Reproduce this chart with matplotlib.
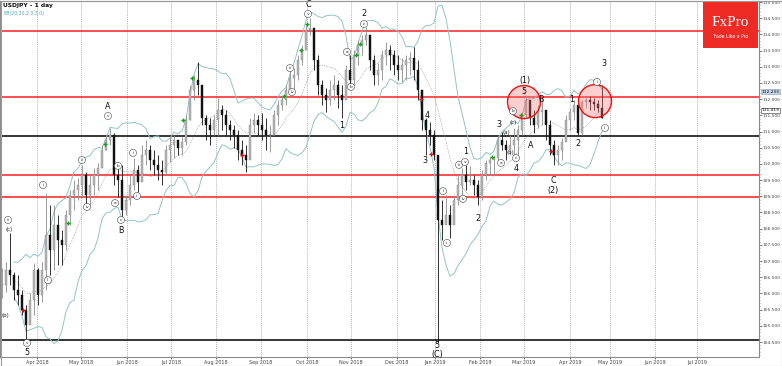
import matplotlib
matplotlib.use("Agg")
import matplotlib.pyplot as plt
from matplotlib.patches import Rectangle, Ellipse
import numpy as np
import pandas as pd

# ---- price data (2-day bars) ----
highs = [106.79, 106.97, 107.87, 106.66, 106.57, 106.11, 105.64, 106.01, 106.94, 106.79,
         106.97, 109.10, 108.73, 108.73, 108.42, 107.96, 108.58, 109.19, 109.50, 109.57,
         109.97, 109.75, 109.66, 109.87, 110.03, 110.58, 110.89, 111.11, 110.95, 110.06,
         109.97, 109.04, 109.66, 110.18, 109.97, 110.58, 110.74, 110.58, 110.43, 110.28,
         110.12, 110.58, 110.83, 110.89, 110.74, 110.83, 111.51, 112.44, 112.75, 113.15,
         112.13, 111.51, 111.42, 111.51, 112.04, 111.82, 111.66, 111.36, 111.20, 111.05,
         110.74, 110.58, 111.42, 111.57, 111.51, 111.57, 111.42, 111.20, 111.66, 111.97,
         112.13, 112.44, 112.84, 112.96, 113.36, 113.67, 114.29, 114.51, 114.14, 113.36,
         112.59, 112.34, 112.59, 112.75, 112.59, 112.44, 113.05, 113.36, 113.52, 113.83,
         113.98, 114.23, 113.92, 113.36, 113.12, 113.52, 113.77, 113.67, 113.52, 113.36,
         113.27, 113.36, 113.46, 113.61, 113.21, 112.13, 111.42, 111.29, 111.05, 110.28,
         108.88, 109.04, 108.73, 109.04, 109.66, 109.87, 109.97, 109.94, 109.66, 109.50,
         109.81, 110.12, 110.21, 110.28, 110.89, 110.98, 110.74, 110.89, 111.11, 111.20,
         111.60, 112.13, 111.97, 111.66, 111.82, 112.04, 111.60, 111.36, 110.74, 110.58,
         110.80, 111.51, 111.73, 111.97, 111.66, 111.97, 112.07, 112.10, 112.04, 111.97,
         112.44]
lows = [105.86, 106.04, 106.26, 105.80, 105.64, 105.33, 104.50, 105.12, 105.33, 105.64,
        105.73, 106.11, 106.57, 106.72, 106.88, 106.88, 107.34, 108.11, 108.58, 108.88,
        108.98, 108.67, 108.73, 109.04, 109.19, 109.97, 110.43, 110.58, 109.35, 108.98,
        108.27, 108.42, 108.73, 109.19, 109.13, 109.66, 109.97, 109.81, 109.66, 109.50,
        109.35, 109.66, 110.06, 110.18, 110.28, 110.28, 110.58, 111.36, 111.97, 112.13,
        111.20, 110.74, 110.58, 110.89, 110.89, 111.05, 110.89, 110.74, 110.49, 110.12,
        109.97, 109.75, 110.43, 110.95, 110.89, 110.74, 110.43, 110.37, 110.89, 111.20,
        111.66, 111.82, 112.13, 112.28, 112.59, 113.05, 113.52, 113.98, 112.90, 112.13,
        111.82, 111.60, 111.82, 111.97, 111.73, 111.42, 112.13, 112.44, 112.44, 113.05,
        113.36, 113.67, 112.90, 112.44, 112.44, 112.59, 113.05, 112.90, 112.75, 112.59,
        112.53, 112.59, 112.75, 112.59, 111.97, 111.05, 110.28, 110.58, 110.12, 104.47,
        107.65, 108.21, 107.71, 108.27, 108.73, 109.04, 109.19, 109.35, 109.04, 108.73,
        108.88, 109.50, 109.66, 109.66, 110.12, 110.43, 110.12, 110.28, 110.18, 110.18,
        110.89, 111.42, 111.20, 110.95, 111.11, 111.20, 110.74, 110.28, 109.97, 109.97,
        110.12, 110.74, 111.05, 111.36, 110.89, 110.89, 111.73, 111.66, 111.66, 111.60,
        111.42]
closes = [106.26, 106.72, 106.57, 106.11, 105.95, 105.49, 105.03, 105.80, 106.72, 105.95,
          106.72, 107.80, 107.34, 108.11, 107.65, 107.50, 108.42, 109.04, 109.19, 109.35,
          109.66, 109.04, 109.35, 109.66, 109.87, 110.43, 110.74, 110.89, 109.66, 109.50,
          108.58, 108.88, 109.35, 109.81, 109.44, 110.28, 110.43, 110.12, 109.97, 109.81,
          109.75, 110.43, 110.58, 110.74, 110.49, 110.68, 111.36, 112.28, 112.59, 112.44,
          111.42, 111.20, 111.05, 111.36, 111.66, 111.51, 111.20, 111.05, 110.89, 110.43,
          110.28, 110.12, 111.20, 111.36, 111.20, 111.05, 110.89, 110.89, 111.51, 111.82,
          111.97, 112.28, 112.65, 112.75, 113.21, 113.52, 114.14, 114.20, 113.21, 112.44,
          112.13, 111.97, 112.28, 112.44, 112.13, 111.97, 112.90, 112.59, 113.36, 113.67,
          113.83, 113.98, 113.21, 112.75, 112.90, 113.36, 113.52, 113.36, 113.05, 112.90,
          113.05, 113.21, 113.27, 112.90, 112.28, 111.36, 111.05, 110.89, 110.28, 108.27,
          108.11, 108.42, 108.11, 108.88, 109.35, 109.66, 109.44, 109.50, 109.35, 108.98,
          109.66, 110.03, 110.12, 110.18, 110.74, 110.58, 110.43, 110.58, 110.74, 111.05,
          111.51, 111.97, 111.42, 111.20, 111.60, 111.66, 111.20, 110.58, 110.28, 110.43,
          110.68, 111.36, 111.60, 111.82, 110.95, 111.91, 111.97, 111.91, 111.85, 111.73,
          111.42]

month_pos = [8.75, 19.75, 31.25, 42.25, 53.5, 64.75, 76.25, 87.25, 98.75, 108.25,
             119.5, 130.5, 142, 152, 163.25, 173.75]
month_labels = ["Apr 2018", "May 2018", "Jun 2018", "Jul 2018", "Aug 2018", "Sep 2018",
                "Oct 2018", "Nov 2018", "Dec 2018", "Jan 2019", "Feb 2019", "Mar 2019",
                "Apr 2019", "May 2019", "Jun 2019", "Jul 2019"]

red_levels = [114.10, 112.07, 109.66, 108.98]
black_levels = [110.86, 104.57]

# wave labels: (text, bar position, price)
big_labels = [("A", 26.5, 111.76), ("B", 29.75, 107.93), ("5", 6.25, 104.18),
              ("C", 76.5, 114.92), ("2", 90.5, 114.63), ("1", 85, 111.20),
              ("4", 106.25, 111.51), ("3", 105.75, 110.09), ("5", 108.75, 104.40),
              ("(C)", 108.75, 104.12), ("1", 116, 110.37), ("2", 119, 108.3),
              ("3", 124.25, 111.23), ("4", 128.5, 109.87), ("(1)", 130.75, 112.59),
              ("5", 130.5, 112.25), ("B", 134.75, 112.0), ("A", 132.25, 110.58),
              ("C", 137.75, 109.50), ("(2)", 137.75, 109.19), ("1", 142.5, 112.0),
              ("2", 144, 110.64), ("3", 150.5, 113.09)]
circ_labels = [("iii", 1.5, 108.27), ("v", 6.25, 104.47), ("i", 10.25, 109.35),
               ("ii", 11.5, 106.41), ("iii", 20, 110.12), ("iv", 21.25, 108.67),
               ("v", 26.5, 111.48), ("a", 28.25, 108.79), ("b", 29, 109.94),
               ("c", 29.75, 108.27), ("i", 32.75, 110.34), ("ii", 33.75, 109.01),
               ("iii", 72, 112.96), ("iv", 72.5, 112.22), ("v", 76.5, 114.63),
               ("a", 86.25, 113.46), ("b", 87.25, 112.38), ("c", 90.5, 114.32),
               ("i", 110.25, 109.16), ("ii", 111.25, 107.56), ("iii", 114.25, 109.97),
               ("v", 115.75, 110.06), ("iv", 115.25, 108.92), ("a", 124.75, 110.03),
               ("b", 127.75, 111.63), ("c", 128.5, 110.18), ("i", 148.75, 112.53),
               ("ii", 150.75, 111.11)]
paren_labels = [("(c)", 1.75, 107.96), ("(b)", 0.9, 105.33), ("(a)", 126, 110.98),
                ("(b)", 127, 110.34), ("(c)", 127.75, 111.29)]
buy_marks_x = [16.5, 25.75, 45.25, 47.5, 70.5, 74.75, 76.25, 88.5, 89.5, 122.5, 129.75]
buy_marks_y = [108.18, 110.61, 111.36, 112.65, 112.10, 113.52, 114.32, 113.36, 113.70, 110.21, 111.51]
sell_marks_x = [5.25, 60, 104.75, 107.25, 137.25]
sell_marks_y = [105.49, 110.28, 112.0, 110.31, 110.40]

# ---- figure ----
W, H = 782, 366
fig = plt.figure(figsize=(W / 100, H / 100), dpi=100)
fig.patch.set_facecolor("white")
ax = fig.add_axes([0 / W, 9 / H, 759 / W, 356 / H])
ax.set_xlim(-0.5, 189.25)
ax.set_ylim(104.037, 115.031)

n = len(closes)
xs = np.arange(n)
opens = [closes[0]] + closes[:-1]

# Bollinger bands (20 days ~ 10 two-day bars)
s = pd.Series(closes)
mid = s.rolling(10, min_periods=4).mean()
sd = s.rolling(10, min_periods=4).std(ddof=1)
ax.plot(xs, mid + 2 * sd, color="#92c4c6", lw=0.7, zorder=2)
ax.plot(xs, mid - 2 * sd, color="#92c4c6", lw=0.7, zorder=2)
ax.plot(xs, mid, color="#8a8a8a", lw=0.5, ls=(0, (1, 1.5)), zorder=2)

# horizontal levels
for lv in red_levels:
    ax.axhline(lv, color="#ff1f1f", lw=1.1, zorder=1.5)
for lv in black_levels:
    ax.axhline(lv, color="#000000", lw=1.1, zorder=1.5)

# candles
for i in range(n):
    o, c, h, l = opens[i], closes[i], highs[i], lows[i]
    up = c >= o
    col = "#8c8c8c" if up else "#111111"
    ax.vlines(i, l, h, color=col, lw=0.6, zorder=3)
    body = max(abs(c - o), 0.03)
    ax.bar(i, body, bottom=min(o, c), width=0.55,
           color="#b4b4b4" if up else "#111111", edgecolor=col, lw=0.3, zorder=3.1)

# circles
for cx, cy in [(130.5, 111.91), (148.25, 111.94)]:
    ax.add_patch(Ellipse((cx, cy), 8.25, 1.02, facecolor=(1, 0.45, 0.45, 0.35),
                         edgecolor="#f01010", lw=1.0, zorder=4))

# markers
ax.plot(buy_marks_x, buy_marks_y, ls="none", marker="+", color="#10a010", ms=3.5, mew=1.0, zorder=5)
ax.plot(sell_marks_x, sell_marks_y, ls="none", marker="+", color="#e01010", ms=3.5, mew=1.0, zorder=5)

# wave labels
for t, x, y in big_labels:
    ax.text(x, y, t, fontsize=5.8, ha="center", va="center", color="#111111", zorder=6)
for t, x, y in circ_labels:
    ax.text(x, y, t, fontsize=3.1, ha="center", va="center", color="#222222", zorder=6,
            bbox=dict(boxstyle="circle,pad=0.35", fc="white", ec="#444444", lw=0.4))
for t, x, y in paren_labels:
    ax.text(x, y, t, fontsize=4.0, ha="center", va="center", color="#222222", zorder=6)

# axes styling
for sp in ax.spines.values():
    sp.set_color("#8a8a8a")
    sp.set_linewidth(0.8)
ax.yaxis.tick_right()
yt = np.arange(104.5, 115.01, 0.5)
ax.set_yticks(yt)
ax.set_yticklabels([f"{v:.3f}" for v in yt], fontsize=3.2, color="#333333")
ax.set_yticks(np.arange(104.1, 115.01, 0.1), minor=True)
ax.tick_params(axis="y", which="major", length=2, width=0.5, pad=0.8, colors="#444444")
ax.tick_params(axis="y", which="minor", length=1, width=0.4, colors="#666666")
ax.set_xticks(month_pos)
ax.set_xticklabels(month_labels, fontsize=3.5, color="#333333")
ax.tick_params(axis="x", length=1.5, width=0.5, pad=1, colors="#444444")
ax.xaxis.grid(True, color="#9a9a9a", lw=0.5, ls=(0, (1.5, 1.5)))
ax.set_axisbelow(True)

# price boxes on the right axis
tr = ax.get_yaxis_transform()
ax.text(1.003, 112.233, "112.233", transform=tr, fontsize=3.2, ha="left", va="center",
        clip_on=False, zorder=7,
        bbox=dict(boxstyle="square,pad=0.12", fc="#c6d6e6", ec="#7f98b0", lw=0.4))
ax.text(1.003, 111.66, "111.419", transform=tr, fontsize=3.2, ha="left", va="center",
        clip_on=False, zorder=7,
        bbox=dict(boxstyle="square,pad=0.12", fc="white", ec="#333333", lw=0.4))

# titles
fig.text(3 / W, 1 - 5.5 / H, "USDJPY - 1 day", fontsize=4.3, fontweight="bold",
         ha="left", va="center", color="#111111")
fig.text(4 / W, 1 - 13 / H, "BB(20,20,2.0,3.0)", fontsize=3.3, ha="left", va="center",
         color="#5aa6ae")

# FxPro logo
fig.patches.append(Rectangle((703 / W, 1 - 48 / H), 55 / W, 47 / H, transform=fig.transFigure,
                             facecolor="#ee2a24", edgecolor="none", zorder=10))
fig.text(730.5 / W, 1 - 22 / H, "FxPro", fontsize=11, family="Liberation Serif",
         color="white", ha="center", va="center", zorder=11)
fig.text(730.5 / W, 1 - 37 / H, "Trade Like a Pro", fontsize=3.3, color="white",
         ha="center", va="center", zorder=11)

# outer border
fig.patches.append(Rectangle((0.5 / W, 0.5 / H), 1 - 1 / W, 1 - 1 / H, transform=fig.transFigure,
                             fill=False, edgecolor="#9a9a9a", lw=0.8, zorder=12))

fig.savefig("out.png", dpi=100)
